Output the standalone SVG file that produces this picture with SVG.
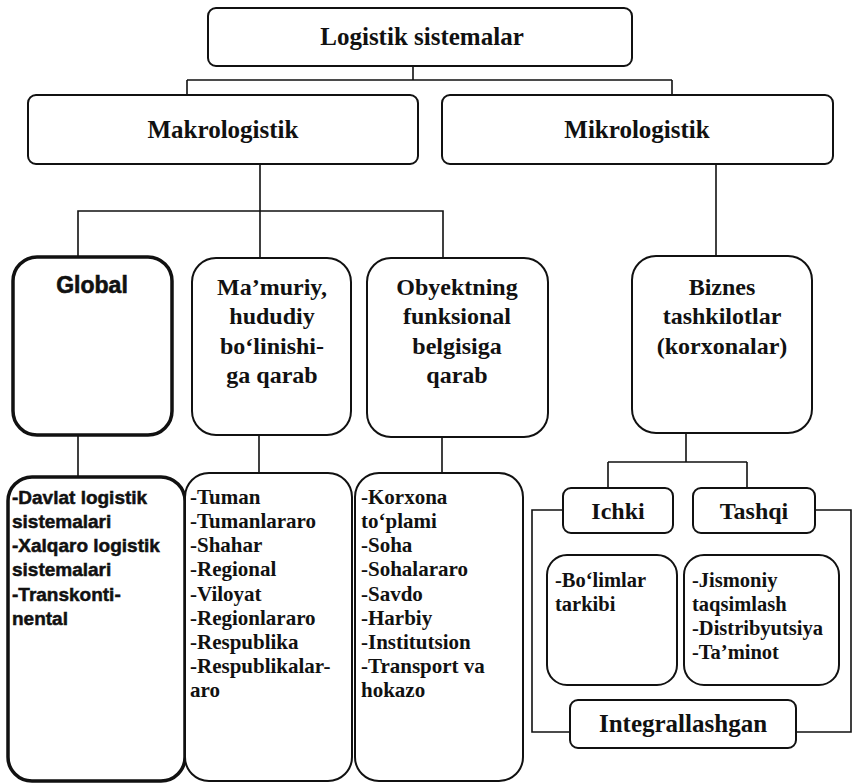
<svg xmlns="http://www.w3.org/2000/svg" width="855" height="784" viewBox="0 0 855 784">
<style>
.box{fill:#fff;stroke:#111;stroke-width:2}
.thick{stroke-width:3.5}
.ln{fill:none;stroke:#111;stroke-width:1.6}
</style>
<rect width="855" height="784" fill="#fff"/>
<g id="connectors">
<path class="ln" d="M413 66 V80 M187 80 H672 M187 80 V94 M672 80 V94"/>
<path class="ln" d="M260 164 V258 M78 256 V211 H443 V258"/>
<path class="ln" d="M716 164 V256"/>
<path class="ln" d="M78 435 V477 M259 435 V473 M442 437 V473"/>
<path class="ln" d="M686 433 V462 M608 462 H747 M608 462 V488 M747 462 V488"/>
<path class="ln" d="M563 510 H532 V732 H570 M815 510 H851 V732 H796"/>
</g>
<g id="n-root"><rect class="box" x="208" y="8" width="424" height="58" rx="8"/>
<text x="422" y="45" font-family="Liberation Serif" font-weight="bold" fill="#111" font-size="25" text-anchor="middle">Logistik sistemalar</text></g>
<g id="n-makro"><rect class="box" x="28" y="95" width="390" height="69" rx="8"/>
<text x="223" y="138" font-family="Liberation Serif" font-weight="bold" fill="#111" font-size="25" text-anchor="middle">Makrologistik</text></g>
<g id="n-mikro"><rect class="box" x="442" y="95" width="391" height="69" rx="8"/>
<text x="637" y="138" font-family="Liberation Serif" font-weight="bold" fill="#111" font-size="25" text-anchor="middle">Mikrologistik</text></g>
<g id="n-global"><rect class="box thick" x="13" y="257" width="159" height="178" rx="24"/>
<text x="92" y="293" font-family="Liberation Sans" font-weight="bold" fill="#111" font-size="23" text-anchor="middle" stroke="#111" stroke-width="0.6">Global</text></g>
<g id="n-mamuriy"><rect class="box" x="192" y="258" width="159" height="177" rx="24"/>
<g font-family="Liberation Serif" font-weight="bold" fill="#111" font-size="24" text-anchor="middle">
<text x="272" y="295">Ma’muriy,</text><text x="272" y="324">hududiy</text><text x="272" y="354">bo‘linishi-</text><text x="272" y="383">ga qarab</text></g></g>
<g id="n-obyekt"><rect class="box" x="367" y="258" width="181" height="179" rx="24"/>
<g font-family="Liberation Serif" font-weight="bold" fill="#111" font-size="24" text-anchor="middle">
<text x="457" y="295">Obyektning</text><text x="457" y="324">funksional</text><text x="457" y="354">belgisiga</text><text x="457" y="383">qarab</text></g></g>
<g id="n-biznes"><rect class="box" x="632" y="256" width="180" height="177" rx="24"/>
<g font-family="Liberation Serif" font-weight="bold" fill="#111" font-size="24" text-anchor="middle">
<text x="722" y="295">Biznes</text><text x="722" y="324">tashkilotlar</text><text x="722" y="354">(korxonalar)</text></g></g>
<g id="n-global-list"><rect class="box thick" x="8" y="477" width="177" height="304" rx="24"/>
<g font-family="Liberation Sans" font-weight="bold" fill="#111" font-size="19" stroke="#111" stroke-width="0.5">
<text x="12" y="504">-Davlat logistik</text><text x="12" y="528">sistemalari</text><text x="12" y="552">-Xalqaro logistik</text><text x="12" y="576">sistemalari</text><text x="12" y="601">-Transkonti-</text><text x="12" y="625">nental</text></g></g>
<g id="n-mamuriy-list"><rect class="box" x="185" y="473" width="167" height="308" rx="24"/>
<g font-family="Liberation Serif" font-weight="bold" fill="#111" font-size="21">
<text x="190" y="504">-Tuman</text><text x="190" y="528">-Tumanlararo</text><text x="190" y="552">-Shahar</text><text x="190" y="576">-Regional</text><text x="190" y="601">-Viloyat</text><text x="190" y="625">-Regionlararo</text><text x="190" y="649">-Respublika</text><text x="190" y="673">-Respublikalar-</text><text x="190" y="697">aro</text></g></g>
<g id="n-obyekt-list"><rect class="box" x="355" y="473" width="168" height="308" rx="24"/>
<g font-family="Liberation Serif" font-weight="bold" fill="#111" font-size="21">
<text x="361" y="504">-Korxona</text><text x="361" y="528">to‘plami</text><text x="361" y="552">-Soha</text><text x="361" y="576">-Sohalararo</text><text x="361" y="601">-Savdo</text><text x="361" y="625">-Harbiy</text><text x="361" y="649">-Institutsion</text><text x="361" y="673">-Transport va</text><text x="361" y="697">hokazo</text></g></g>
<g id="n-ichki"><rect class="box" x="563" y="488" width="110" height="45" rx="8"/>
<text x="618" y="519" font-family="Liberation Serif" font-weight="bold" fill="#111" font-size="24" text-anchor="middle">Ichki</text></g>
<g id="n-tashqi"><rect class="box" x="693" y="488" width="122" height="45" rx="8"/>
<text x="754" y="519" font-family="Liberation Serif" font-weight="bold" fill="#111" font-size="24" text-anchor="middle">Tashqi</text></g>
<g id="n-bolimlar"><rect class="box" x="547" y="555" width="130" height="130" rx="20"/>
<g font-family="Liberation Serif" font-weight="bold" fill="#111" font-size="20.5">
<text x="555" y="587">-Bo‘limlar</text><text x="555" y="611">tarkibi</text></g></g>
<g id="n-jismoniy"><rect class="box" x="684" y="555" width="155" height="130" rx="20"/>
<g font-family="Liberation Serif" font-weight="bold" fill="#111" font-size="20.5">
<text x="692" y="587">-Jismoniy</text><text x="692" y="611">taqsimlash</text><text x="692" y="635">-Distribyutsiya</text><text x="692" y="659">-Ta’minot</text></g></g>
<g id="n-integral"><rect class="box" x="570" y="700" width="226" height="48" rx="8"/>
<text x="683" y="732" font-family="Liberation Serif" font-weight="bold" fill="#111" font-size="25" text-anchor="middle">Integrallashgan</text></g>
</svg>
